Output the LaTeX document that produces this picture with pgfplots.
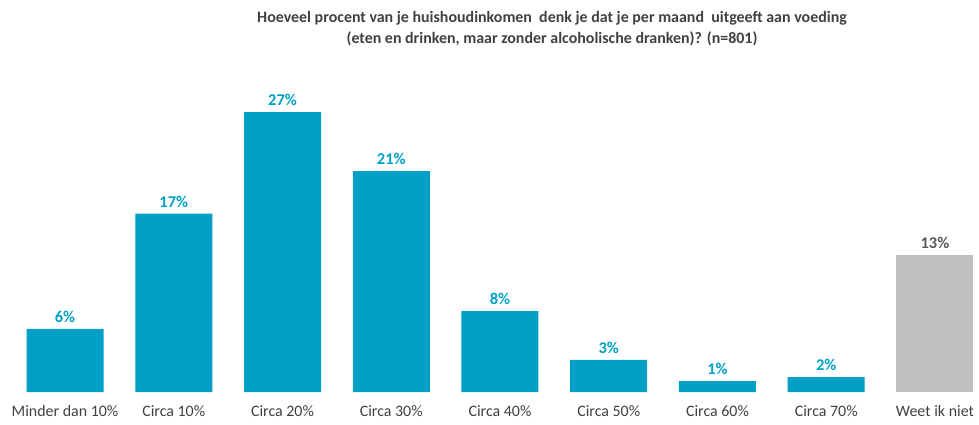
\documentclass[border=0pt]{standalone}
\usepackage{pgfplots}
\pgfplotsset{compat=1.18}
\usepackage{fontspec}
\setmainfont{Carlito}
\definecolor{barblue}{HTML}{00A0C6}
\definecolor{bargray}{HTML}{BFBFBF}
\definecolor{txtgray}{HTML}{404040}
\definecolor{lblgray}{HTML}{595959}
\begin{document}
\begin{tikzpicture}[x=1bp,y=1bp]
\begin{axis}[
  name=ax,
  at={(0,0)}, anchor=south west,
  scale only axis,
  width=979bp, height=392bp,
  xmin=-0.598, xmax=8.405,
  ymin=0, ymax=37.8,
  axis line style={draw=none},
  ybar, bar width=77bp, bar shift=0pt,
  xtick={0,...,8},
  xticklabels={Minder dan 10\%,Circa 10\%,Circa 20\%,Circa 30\%,Circa 40\%,Circa 50\%,Circa 60\%,Circa 70\%,Weet ik niet},
  ytick=\empty,
  major tick length=0pt,
  xticklabel style={font=\fontsize{16}{18}\selectfont, text=txtgray, yshift=-10bp},
  nodes near coords,
  point meta=explicit symbolic,
  nodes near coords style={font=\bfseries\fontsize{16.5}{18}\selectfont, anchor=south, yshift=3bp},
  clip=false,
]
\addplot[fill=barblue, draw=none, nodes near coords style={text=barblue}] coordinates {
 (0,6.1) [6\%]
 (1,17.2) [17\%]
 (2,27.0) [27\%]
 (3,21.3) [21\%]
 (4,7.8) [8\%]
 (5,3.1) [3\%]
 (6,1.05) [1\%]
 (7,1.45) [2\%]
};
\addplot[fill=bargray, draw=none, nodes near coords style={text=lblgray}] coordinates {
 (8,13.2) [13\%]
};
\end{axis}
\node[font=\bfseries\fontsize{16}{18}\selectfont, text=txtgray, align=center, anchor=center] at (552,392-18) {Hoeveel procent van je huishoudinkomen\ \ denk je dat je per maand\ \ uitgeeft aan voeding};
\node[font=\bfseries\fontsize{16}{18}\selectfont, text=txtgray, align=center, anchor=center] at (552,392-39) {(eten en drinken, maar zonder alcoholische dranken)? (n=801)};
\path (0,-32) rectangle (979,392);
\end{tikzpicture}
\end{document}
